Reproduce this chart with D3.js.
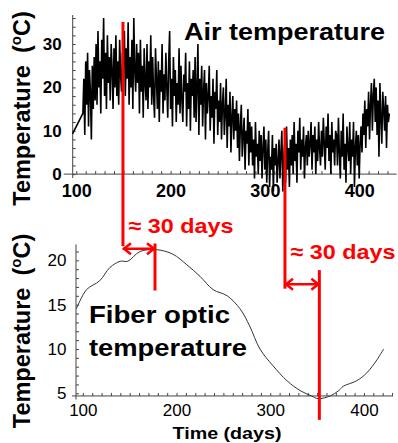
<!DOCTYPE html>
<html><head><meta charset="utf-8">
<script src="https://cdn.jsdelivr.net/npm/d3@7"></script>
<style>
body{margin:0;background:#fff}
svg{display:block}
text{font-family:"Liberation Sans",Arial,sans-serif;fill:#000}
</style>
</head><body>
<svg id="c" width="398" height="443"></svg>
<script>
// ---------------- DATA ----------------
// Air temperature (daily readings, °C); first reading on day 96, then continuous from day 107
const airLeadDay = 96;
const airLeadValue = 9.3;
const airStartDay = 107;
const airValues = [
  14,22,9,26,16,28,11,24,19,8,25,15,27,17,
  30,16,33,20,26,14,31,22,36,18,28,15,32,21,27,
  17,30,24,15,29,20,32,18,26,16,31,23,19,28,25,
  33,18,29,22,35,16,27,20,31,15,36,24,19,30,21,
  28,14,31,19,25,13,29,21,17,30,15,26,20,32,16,
  27,18,13,29,22,15,26,12,24,19,30,14,23,17,28,
  20,13,26,33,15,22,11,27,18,24,12,21,16,29,14,
  25,17,12,23,19,28,11,21,15,26,10,22,18,24,13,
  27,12,20,30,9,22,16,25,11,19,24,8,21,14,18,
  25,10,18,13,22,7,19,15,24,9,17,12,21,8,16,
  20,9,14,22,6,16,11,19,5,13,18,8,15,10,17,
  6,14,3,11,16,4,9,13,1,10,7,15,2,12,5,
  11,2,8,-1,12,4,7,0,10,3,9,-1,6,11,1,
  8,-2,5,10,-3,4,1,9,-4,6,2,7,-2,3,8,
  -1,5,10,-4,4,7,-2,11,1,6,-3,8,2,9,0,
  12,3,7,-2,10,5,13,1,8,4,11,-1,6,9,2,
  10,4,7,12,1,9,5,11,0,8,3,12,6,2,10,
  4,13,7,1,11,6,14,3,9,0,12,5,8,2,10,
  9,2,13,5,-1,10,4,14,1,7,-2,11,6,3,12,
  0,8,4,12,-3,6,10,2,9,-1,7,11,
  5,14,9,17,6,15,11,19,8,16,21,10,18,22,12,
  20,9,17,4,21,13,7,19,15,10,18,6,16,12,14
];
// Fiber optic temperature (°C)
const fiberDays   = [93, 104, 118, 129, 140, 148, 161, 179, 196, 211, 225, 239, 254, 268, 278, 289, 303, 318, 332, 344, 351, 364, 373, 378, 392, 403, 414, 421];
const fiberValues = [14.5,16.7,17.7,19.2,19.9,19.9,21.0,21.2,20.7,19.5,18.2,16.7,16.0,14.5,12.6,10.0,8.1,6.4,5.3,4.7,4.4,4.7,5.3,5.8,6.4,7.3,8.8,10.0];

const xTickLabels = [100, 200, 300, 400];
const topYTickLabels = [0, 10, 20, 30];
const botYTickLabels = [5, 10, 15, 20];

// lag annotations: start day (air), end day (fiber)
const lagStartDays = [149.5, 321.3];
const lagEndDays = [177, 352.4];
const lagLabel = "≈ 30 days";

// ---------------- CHART ----------------
const svg = d3.select("#c");
const RED = "#ff0000";

const xTop = d3.scaleLinear().domain([96.2, 439.8]).range([72.7, 396.7]);
const yTop = d3.scaleLinear().domain([-0.9, 36.7]).range([178, 15]);
const xBot = d3.scaleLinear().domain([92.7, 431]).range([76, 393]);
const yBot = d3.scaleLinear().domain([4.3, 21.8]).range([399.5, 244.4]);

const axisColor = "#444";

// ---- top axes ----
const topAxisY = yTop(0);
svg.append("line").attr("x1", xTop.range()[0] - 9).attr("x2", xTop.range()[1])
  .attr("y1", topAxisY).attr("y2", topAxisY).attr("stroke", axisColor);
svg.append("line").attr("x1", xTop.range()[0]).attr("x2", xTop.range()[0])
  .attr("y1", yTop.range()[0]).attr("y2", yTop.range()[1]).attr("stroke", axisColor);

svg.append("g").attr("transform", `translate(0,${topAxisY})`)
  .call(d3.axisBottom(xTop).tickValues(d3.range(100, 431, 10)).tickSizeInner(-3).tickSizeOuter(0).tickFormat(""));
const gTopXLab = svg.append("g").attr("transform", `translate(0,${topAxisY})`)
  .call(d3.axisBottom(xTop).tickValues(xTickLabels).tickSize(0).tickPadding(10));
gTopXLab.selectAll("text").attr("font-size", 18).attr("font-weight", "bold");

svg.append("g").attr("transform", `translate(${xTop.range()[0]},0)`)
  .call(d3.axisLeft(yTop).tickValues(d3.range(0, 37, 2)).tickSizeInner(-3).tickSizeOuter(0).tickFormat(""));
const gTopYLab = svg.append("g").attr("transform", `translate(${xTop.range()[0]},0)`)
  .call(d3.axisLeft(yTop).tickValues(topYTickLabels).tickSize(0).tickPadding(11));
gTopYLab.selectAll("text").attr("font-size", 17).attr("font-weight", "bold");

// ---- bottom axes ----
const botAxisY = yBot(4.7);
svg.append("line").attr("x1", xBot.range()[0] - 4).attr("x2", xBot.range()[1])
  .attr("y1", botAxisY).attr("y2", botAxisY).attr("stroke", axisColor);
svg.append("line").attr("x1", xBot.range()[0]).attr("x2", xBot.range()[0])
  .attr("y1", yBot.range()[0]).attr("y2", yBot.range()[1]).attr("stroke", axisColor);

svg.append("g").attr("transform", `translate(0,${botAxisY})`)
  .call(d3.axisBottom(xBot).tickValues(d3.range(100, 431, 10)).tickSizeInner(-3).tickSizeOuter(0).tickFormat(""));
const gBotXLab = svg.append("g").attr("transform", `translate(0,${botAxisY})`)
  .call(d3.axisBottom(xBot).tickValues(xTickLabels).tickSize(0).tickPadding(8));
gBotXLab.selectAll("text").attr("font-size", 17);

svg.append("g").attr("transform", `translate(${xBot.range()[0]},0)`)
  .call(d3.axisLeft(yBot).tickValues(d3.range(5, 22, 1)).tickSizeInner(-3).tickSizeOuter(0).tickFormat(""));
const gBotYLab = svg.append("g").attr("transform", `translate(${xBot.range()[0]},0)`)
  .call(d3.axisLeft(yBot).tickValues(botYTickLabels).tickSize(0).tickPadding(9.5));
gBotYLab.selectAll("text").attr("font-size", 17);

svg.selectAll(".domain").remove();
svg.selectAll(".tick line").attr("stroke", axisColor);
svg.selectAll(".tick text").attr("fill", "#000").style("font-family", '"Liberation Sans",Arial,sans-serif');

// ---- data lines ----
const airDays = [airLeadDay].concat(airValues.map((v, i) => airStartDay + i));
const airAll = [airLeadValue].concat(airValues);
const airPts = airDays.map((d, i) => [d, airAll[i]]);
svg.append("path").datum(airPts)
  .attr("d", d3.line().x(d => xTop(d[0])).y(d => yTop(d[1])))
  .attr("fill", "none").attr("stroke", "#000").attr("stroke-width", 1.6)
  .attr("stroke-linejoin", "bevel");

const fiberPts = fiberDays.map((d, i) => [d, fiberValues[i]]);
svg.append("path").datum(fiberPts)
  .attr("d", d3.line().curve(d3.curveCatmullRom).x(d => xBot(d[0])).y(d => yBot(d[1])))
  .attr("fill", "none").attr("stroke", "#333").attr("stroke-width", 1);

// ---- titles ----
svg.append("text").attr("x", 184).attr("y", 40).attr("font-size", 23).attr("font-weight", "bold")
  .attr("textLength", 201).attr("lengthAdjust", "spacingAndGlyphs").text("Air temperature");
svg.append("text").attr("x", 89).attr("y", 323).attr("font-size", 23).attr("font-weight", "bold")
  .attr("textLength", 141).attr("lengthAdjust", "spacingAndGlyphs").text("Fiber optic");
svg.append("text").attr("x", 89).attr("y", 356).attr("font-size", 23).attr("font-weight", "bold")
  .attr("textLength", 158).attr("lengthAdjust", "spacingAndGlyphs").text("temperature");
svg.append("text").attr("x", 227).attr("y", 439).attr("text-anchor", "middle").attr("font-size", 17)
  .attr("font-weight", "bold").attr("textLength", 109).attr("lengthAdjust", "spacingAndGlyphs").text("Time (days)");

function yTitle(cx, cy) {
  const t = svg.append("text").attr("transform", `translate(${cx},${cy}) rotate(-90)`)
    .attr("text-anchor", "middle").attr("font-size", 23.5).attr("font-weight", "bold");
  t.append("tspan").text("Temperature");
  t.append("tspan").attr("dx", 12).text("(");
  t.append("tspan").attr("dy", -9).attr("font-size", 15).text("o");
  t.append("tspan").attr("dy", 9).text("C)");
}
yTitle(30, 108.5);
yTitle(30, 331);

// ---- lag annotations ----
const lagTopVals = [35.1, 10.7];
const lagStartBotVals = [21.6, 16.8];
const lagEndTopVals = [21.9, 18.9];
const lagEndBotVals = [16.6, 2.0];
const lagArrowVals = [21.3, 17.3];
const lagTextVals = [23.1, 20.1];

lagStartDays.forEach((d0, i) => {
  const x0 = xTop(d0), x1 = xBot(lagEndDays[i]);
  svg.append("line").attr("x1", x0).attr("x2", x0)
    .attr("y1", yTop(lagTopVals[i])).attr("y2", yBot(lagStartBotVals[i]))
    .attr("stroke", RED).attr("stroke-width", 3);
  svg.append("line").attr("x1", x1).attr("x2", x1)
    .attr("y1", yBot(lagEndTopVals[i])).attr("y2", yBot(lagEndBotVals[i]))
    .attr("stroke", RED).attr("stroke-width", 3);
  const ay = yBot(lagArrowVals[i]);
  svg.append("line").attr("x1", x0).attr("x2", x1).attr("y1", ay).attr("y2", ay)
    .attr("stroke", RED).attr("stroke-width", 2.5);
  const ah = 8, aw = 5.5;
  svg.append("polyline").attr("points", `${x0 + ah},${ay - aw} ${x0 + 1},${ay} ${x0 + ah},${ay + aw}`)
    .attr("fill", "none").attr("stroke", RED).attr("stroke-width", 2.5);
  svg.append("polyline").attr("points", `${x1 - ah},${ay - aw} ${x1 - 1},${ay} ${x1 - ah},${ay + aw}`)
    .attr("fill", "none").attr("stroke", RED).attr("stroke-width", 2.5);
  svg.append("text").attr("x", x0 + 5.5).attr("y", yBot(lagTextVals[i]))
    .attr("font-size", 21).attr("font-weight", "bold").style("fill", RED)
    .attr("textLength", 105).attr("lengthAdjust", "spacingAndGlyphs").text(lagLabel);
});
</script>
</body></html>
